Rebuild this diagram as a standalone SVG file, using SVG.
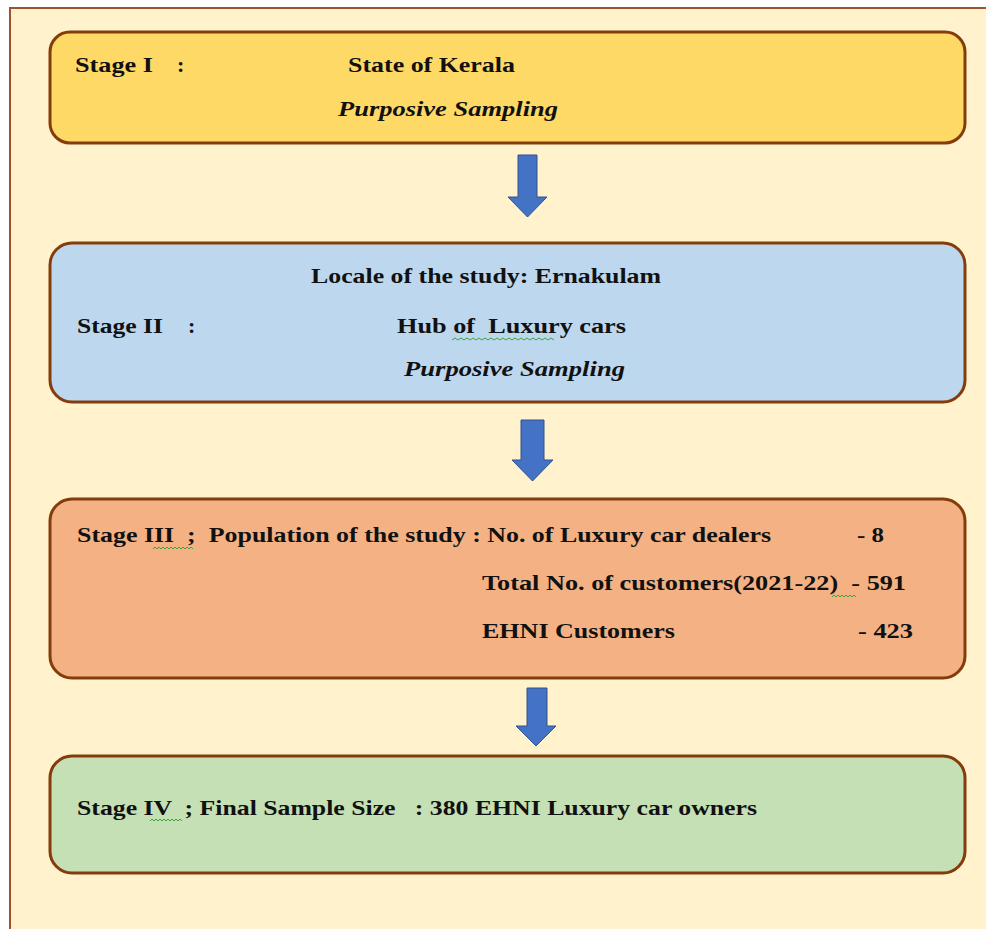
<svg xmlns="http://www.w3.org/2000/svg" width="986" height="929" viewBox="0 0 986 929">
<style>
.box{stroke:#843c0c;stroke-width:3}
.t{font-family:"Liberation Serif","Times New Roman",serif;font-weight:bold;font-size:22px;fill:#111;white-space:pre}
.i{font-style:italic}
.arrow{fill:#4472c4;stroke:#2f528f;stroke-width:1}
.wave{fill:none;stroke:#3aa63a;stroke-width:1}
</style>
<rect x="0" y="0" width="986" height="929" fill="#ffffff"/>
<rect x="10" y="8" width="990" height="940" fill="#fff2cc" stroke="#a0522d" stroke-width="2"/>
<g id="stage1">
<rect class="box" x="50" y="32" width="915" height="111" rx="20" fill="#ffd966"/>
<text class="t" x="75" y="72" textLength="78" lengthAdjust="spacingAndGlyphs">Stage I</text>
<text class="t" x="177" y="72">:</text>
<text class="t" x="348" y="72" textLength="167" lengthAdjust="spacingAndGlyphs">State of Kerala</text>
<text class="t i" x="338" y="116" textLength="220" lengthAdjust="spacingAndGlyphs">Purposive Sampling</text>
</g>
<g id="stage2">
<rect class="box" x="50" y="243" width="915" height="159" rx="22" fill="#bdd7ee"/>
<text class="t" x="311" y="283" textLength="350" lengthAdjust="spacingAndGlyphs">Locale of the study: Ernakulam</text>
<text class="t" x="77" y="333" textLength="86" lengthAdjust="spacingAndGlyphs">Stage II</text>
<text class="t" x="188" y="333">:</text>
<text class="t" x="397" y="333" textLength="229" lengthAdjust="spacingAndGlyphs">Hub of  Luxury cars</text>
<text class="t i" x="404" y="376" textLength="221" lengthAdjust="spacingAndGlyphs">Purposive Sampling</text>
<path class="wave" d="M452 340 l3 -2 l3 2 l3 -2 l3 2 l3 -2 l3 2 l3 -2 l3 2 l3 -2 l3 2 l3 -2 l3 2 l3 -2 l3 2 l3 -2 l3 2 l3 -2 l3 2 l3 -2 l3 2 l3 -2 l3 2 l3 -2 l3 2 l3 -2 l3 2 l3 -2 l3 2 l3 -2 l3 2 l3 -2 l3 2 l3 -2 l3 2"/>
</g>
<g id="stage3">
<rect class="box" x="50" y="499" width="915" height="179" rx="22" fill="#f4b183"/>
<text class="t" x="77" y="542" textLength="694" lengthAdjust="spacingAndGlyphs">Stage III  ;  Population of the study : No. of Luxury car dealers</text>
<text class="t" x="857" y="542" textLength="27" lengthAdjust="spacingAndGlyphs">- 8</text>
<text class="t" x="482" y="590" textLength="424" lengthAdjust="spacingAndGlyphs">Total No. of customers(2021-22)  - 591</text>
<text class="t" x="482" y="638" textLength="193" lengthAdjust="spacingAndGlyphs">EHNI Customers</text>
<text class="t" x="858" y="638" textLength="55" lengthAdjust="spacingAndGlyphs">- 423</text>
<path class="wave" d="M153 549 l2 -2 l2 2 l2 -2 l2 2 l2 -2 l2 2 l2 -2 l2 2 l2 -2 l2 2 l2 -2 l2 2 l2 -2 l2 2 l2 -2 l2 2 l2 -2 l2 2 l2 -2 l2 2"/>
<path class="wave" d="M832 597 l2 -2 l2 2 l2 -2 l2 2 l2 -2 l2 2 l2 -2 l2 2 l2 -2 l2 2 l2 -2 l2 2"/>
</g>
<g id="stage4">
<rect class="box" x="50" y="756" width="915" height="117" rx="22" fill="#c5e0b4"/>
<text class="t" x="77" y="815" textLength="680" lengthAdjust="spacingAndGlyphs">Stage IV  ; Final Sample Size   : 380 EHNI Luxury car owners</text>
<path class="wave" d="M150 821 l2 -2 l2 2 l2 -2 l2 2 l2 -2 l2 2 l2 -2 l2 2 l2 -2 l2 2 l2 -2 l2 2 l2 -2 l2 2 l2 -2 l2 2"/>
</g>
<g id="connectors">
<path class="arrow" d="M518 155 H537 V197 H547 L527.5 217 L508 197 H518 Z"/>
<path class="arrow" d="M521 420 H544 V460 H553 L532.5 481 L512 460 H521 Z"/>
<path class="arrow" d="M527 688 H547 V726 H556 L536 746 L516 726 H527 Z"/>
</g>
</svg>
